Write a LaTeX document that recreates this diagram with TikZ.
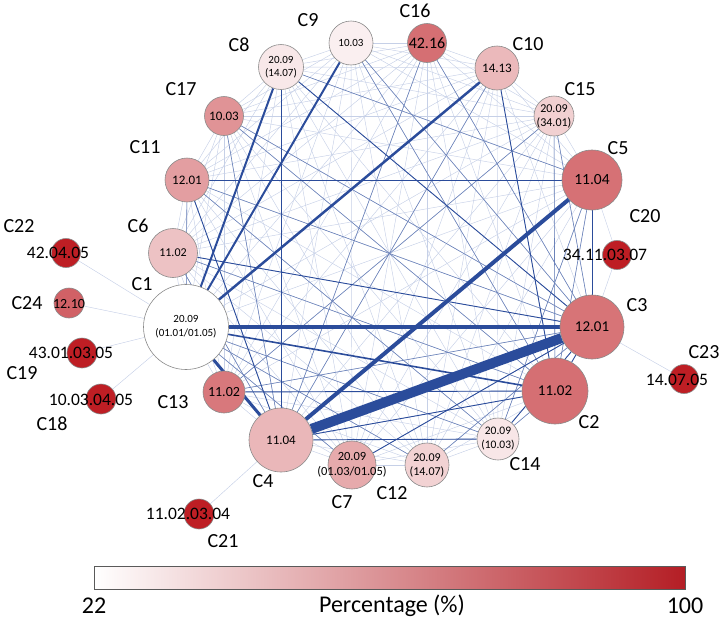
\documentclass[tikz,border=0pt]{standalone}
\usepackage{fontspec}
\setmainfont{Carlito}
\usetikzlibrary{backgrounds}
\definecolor{deepred}{HTML}{BE1E24}
\definecolor{barred}{HTML}{B41E25}
\definecolor{linkblue}{HTML}{2B4C9B}
\definecolor{meshblue}{HTML}{C6D0E7}
\definecolor{rimgray}{HTML}{8A8A8A}
\definecolor{barrim}{HTML}{5A5A5A}
\tikzset{
  cnode/.style 2 args={circle,draw=rimgray,line width=0.6pt,fill=deepred!#2,minimum size=#1,inner sep=0pt,align=center},
  fs/.style 2 args={font=\fontsize{#1}{#2}\selectfont,align=center},
  cname/.style={font=\fontsize{20}{24}\selectfont},
  mesh/.style={meshblue,line width=0.45pt},
  link/.style={linkblue,line width=#1},
  link/.default=0.9pt,
  thin link/.style={linkblue!70,line width=0.6pt},
}
\begin{document}
\begin{tikzpicture}[x=1pt,y=-1pt]
\useasboundingbox (0,0) rectangle (723,624);
\node[cnode={44}{7},fs={11}{13}]   (C9)  at (351,43)  {10.03};
\node[cnode={39}{64},fs={16}{18}]  (C16) at (427,43)  {42.16};
\node[cnode={44}{31},fs={13}{15}]  (C10) at (497,68)  {14.13};
\node[cnode={40}{21}]              (C15) at (554,116) {};
\node[cnode={60}{63},fs={15.5}{18}] (C5) at (592,180) {11.04};
\node[cnode={29}{100}]             (C20) at (617,255) {};
\node[cnode={64}{62},fs={15}{18}]  (C3)  at (592,327) {12.01};
\node[cnode={66}{64},fs={15}{18}]  (C2)  at (555,391) {11.02};
\node[cnode={42}{11},fs={11.5}{14}] (C14) at (498,439) {20.09\\(10.03)};
\node[cnode={44}{20},fs={12}{14}]  (C12) at (427,465) {20.09\\(14.07)};
\node[cnode={48}{38}]              (C7)  at (352,465) {};
\node[cnode={64}{32},fs={13}{15}]  (C4)  at (281,440) {11.04};
\node[cnode={42}{60},fs={14}{16}]  (C13) at (224,392) {11.02};
\node[cnode={85}{0},fs={11}{14}]   (C1)  at (186,327) {20.09\\(01.01/01.05)};
\node[cnode={49}{27},fs={12}{14}]  (C6)  at (173,253) {11.02};
\node[cnode={44}{43},fs={13}{15}]  (C11) at (187,180) {12.01};
\node[cnode={39}{48},fs={13}{15}]  (C17) at (224,116) {10.03};
\node[cnode={45}{10},fs={11}{13}]  (C8)  at (281,67)  {20.09\\(14.07)};
\node[cnode={29}{100}] (C22) at (66,253)  {};
\node[cnode={30}{70}]  (C24) at (69,303)  {};
\node[cnode={30}{100}] (C19) at (82,353)  {};
\node[cnode={30}{100}] (C18) at (101,399) {};
\node[cnode={30}{100}] (C21) at (199,514) {};
\node[cnode={29}{100}] (C23) at (684,379) {};
\node[fs={12}{14}]   (tC15) at (C15)      {20.09\\(34.01)};
\node[fs={12.5}{15}] (tC7)  at (C7)       {20.09\\(01.03/01.05)};
\node[fs={17.5}{20}] (tC22) at (58,253)  {42.04.05};
\node[fs={14}{16}]   (tC24) at (69,304)  {12.10};
\node[fs={17.5}{20}] (tC19) at (71,353)  {43.01.03.05};
\node[fs={17.5}{20}] (tC18) at (91,400)  {10.03.04.05};
\node[fs={17.5}{20}] (tC21) at (188,514) {11.02.03.04};
\node[fs={17.5}{20}] (tC20) at (605,255) {34.11.03.07};
\node[fs={17.5}{20}] (tC23) at (677,380) {14.07.05};
\node[cname] (lC9)  at (308,20)  {C9};
\node[cname] (lC16) at (415,11)  {C16};
\node[cname] (lC10) at (528,44)  {C10};
\node[cname] (lC15) at (580,89)  {C15};
\node[cname] (lC5)  at (618,148) {C5};
\node[cname] (lC20) at (645,216) {C20};
\node[cname] (lC3)  at (637,305) {C3};
\node[cname] (lC23) at (704,352) {C23};
\node[cname] (lC2)  at (589,422) {C2};
\node[cname] (lC14) at (525,464) {C14};
\node[cname] (lC12) at (392,493) {C12};
\node[cname] (lC7)  at (342,502) {C7};
\node[cname] (lC4)  at (263,481) {C4};
\node[cname] (lC21) at (223,541) {C21};
\node[cname] (lC13) at (173,402) {C13};
\node[cname] (lC18) at (52,424)  {C18};
\node[cname] (lC19) at (22,373)  {C19};
\node[cname] (lC1)  at (142,284) {C1};
\node[cname] (lC24) at (27,303)  {C24};
\node[cname] (lC6)  at (138,226) {C6};
\node[cname] (lC22) at (19,226)  {C22};
\node[cname] (lC11) at (145,147) {C11};
\node[cname] (lC17) at (181,89)  {C17};
\node[cname] (lC8)  at (239,45)  {C8};
\node[draw=barrim,line width=0.8pt,left color=white,right color=barred,minimum width=591pt,minimum height=23pt,inner sep=0pt] (bar) at (389.5,577.5) {};
\node[font=\fontsize{24}{28}\selectfont] (lo)  at (94,606)  {22};
\node[font=\fontsize{24}{28}\selectfont] (hi)  at (685,606) {100};
\node[font=\fontsize{24}{28}\selectfont] (pct) at (392,606) {Percentage (\%)};
\begin{scope}[on background layer]
\foreach \a [count=\i] in {C1,C2,C3,C4,C5,C6,C7,C8,C9,C10,C11,C12,C13,C14,C15,C16,C17}{
  \foreach \b [count=\j] in {C1,C2,C3,C4,C5,C6,C7,C8,C9,C10,C11,C12,C13,C14,C15,C16,C17}{
    \ifnum\j>\i \draw[mesh] (\a) -- (\b); \fi
  }
}
\draw[mesh] (C22) -- (C1);
\draw[mesh] (C24) -- (C1);
\draw[mesh] (C19) -- (C1);
\draw[mesh] (C18) -- (C1);
\draw[mesh] (C21) -- (C4);
\draw[mesh] (C23) -- (C3);
\draw[mesh] (C20) -- (C3);
\draw[mesh] (C20) -- (C5);
\draw[thin link] (C1) -- (C14);
\draw[thin link] (C1) -- (C12);
\draw[thin link] (C1) -- (C7);
\draw[thin link] (C1) -- (C11);
\draw[thin link] (C4) -- (C17);
\draw[thin link] (C4) -- (C6);
\draw[thin link] (C4) -- (C10);
\draw[thin link] (C3) -- (C9);
\draw[thin link] (C3) -- (C11);
\draw[thin link] (C3) -- (C13);
\draw[thin link] (C3) -- (C12);
\draw[thin link] (C3) -- (C15);
\draw[thin link] (C3) -- (C16);
\draw[thin link] (C3) -- (C17);
\draw[thin link] (C2) -- (C9);
\draw[thin link] (C2) -- (C17);
\draw[thin link] (C2) -- (C14);
\draw[thin link] (C2) -- (C15);
\draw[thin link] (C5) -- (C8);
\draw[thin link] (C5) -- (C2);
\draw[thin link] (C5) -- (C14);
\draw[thin link] (C16) -- (C4);
\draw[thin link] (C15) -- (C13);
\draw[thin link] (C6) -- (C2);
\draw[thin link] (C11) -- (C14);
\draw[link] (C4) -- (C8);
\draw[link] (C4) -- (C11);
\draw[link] (C4) -- (C14);
\draw[link] (C4) -- (C2);
\draw[link] (C3) -- (C6);
\draw[link] (C3) -- (C7);
\draw[link] (C3) -- (C8);
\draw[link] (C3) -- (C14);
\draw[link] (C3) -- (C5);
\draw[link] (C3) -- (C2);
\draw[link] (C5) -- (C11);
\draw[link] (C2) -- (C10);
\draw[link] (C2) -- (C13);
\draw[link=1.6pt] (C1) -- (C2);
\draw[link=2pt] (C1) -- (C9);
\draw[link=2pt] (C1) -- (C8);
\draw[link=2.5pt] (C1) -- (C10);
\draw[link=3pt] (C1) -- (C4);
\draw[link=3.5pt] (C1) -- (C3);
\draw[link=4pt] (C4) -- (C5);
\draw[link=10pt] (C4) -- (C3);
\end{scope}
\end{tikzpicture}
\end{document}
